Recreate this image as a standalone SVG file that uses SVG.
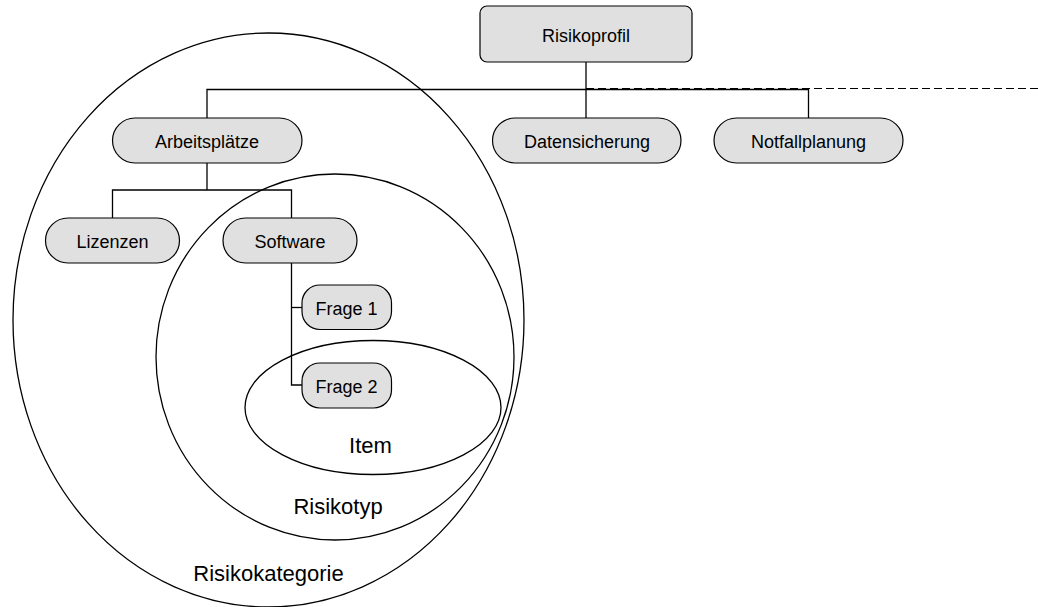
<svg xmlns="http://www.w3.org/2000/svg" width="1038" height="607" viewBox="0 0 1038 607">
  <style>
    .bg { fill: #ffffff; }
    .region { fill: none; stroke: #000000; stroke-width: 1.3; }
    .node { fill: #e0e0e0; stroke: #000000; stroke-width: 1.2; }
    .conn { fill: none; stroke: #000000; stroke-width: 1.3; }
    .dash { fill: none; stroke: #000000; stroke-width: 1.2; stroke-dasharray: 8 4; }
    .lbl { font-family: "Liberation Sans", Arial, sans-serif; font-size: 18px; fill: #000000; text-anchor: middle; }
    .rlbl { font-family: "Liberation Sans", Arial, sans-serif; font-size: 22px; fill: #000000; text-anchor: middle; }
  </style>
  <rect class="bg" x="0" y="0" width="1038" height="607"/>

  <g id="regions">
    <g id="risikokategorie">
      <ellipse class="region" cx="268.5" cy="320" rx="255.5" ry="287"/>
      <text class="rlbl" x="268.5" y="580.5">Risikokategorie</text>
    </g>
    <g id="risikotyp">
      <ellipse class="region" cx="335" cy="357" rx="179" ry="183"/>
      <text class="rlbl" x="338" y="514">Risikotyp</text>
    </g>
    <g id="item">
      <ellipse class="region" cx="373" cy="407.5" rx="128" ry="67"/>
      <text class="rlbl" x="370.5" y="453">Item</text>
    </g>
  </g>

  <g id="connectors">
    <line class="conn" x1="586" y1="62" x2="586" y2="89.5"/>
    <polyline class="conn" points="207,118 207,89.5 808.5,89.5 808.5,118"/>
    <line class="conn" x1="586" y1="89.5" x2="586" y2="118"/>
    <line class="dash" x1="586" y1="88.5" x2="1038" y2="88.5"/>
    <line class="conn" x1="207" y1="163" x2="207" y2="190"/>
    <polyline class="conn" points="112.5,218 112.5,190 291.5,190 291.5,218"/>
    <polyline class="conn" points="291.5,263 291.5,385 302,385"/>
    <line class="conn" x1="291.5" y1="307.5" x2="302" y2="307.5"/>
  </g>

  <g id="risikoprofil">
    <rect class="node" x="480" y="6" width="212" height="56" rx="7"/>
    <text class="lbl" x="586" y="41.5">Risikoprofil</text>
  </g>
  <g id="arbeitsplaetze">
    <rect class="node" x="112.5" y="118" width="189.5" height="45" rx="22.5"/>
    <text class="lbl" x="207" y="148">Arbeitsplätze</text>
  </g>
  <g id="datensicherung">
    <rect class="node" x="492.5" y="118" width="188.5" height="45" rx="22.5"/>
    <text class="lbl" x="587" y="148">Datensicherung</text>
  </g>
  <g id="notfallplanung">
    <rect class="node" x="714" y="118" width="189" height="45" rx="22.5"/>
    <text class="lbl" x="808.5" y="148">Notfallplanung</text>
  </g>
  <g id="lizenzen">
    <rect class="node" x="45.5" y="218" width="134" height="45" rx="22.5"/>
    <text class="lbl" x="112.5" y="248">Lizenzen</text>
  </g>
  <g id="software">
    <rect class="node" x="223" y="218" width="134" height="45" rx="22.5"/>
    <text class="lbl" x="290" y="248">Software</text>
  </g>
  <g id="frage1">
    <rect class="node" x="302" y="285" width="89.5" height="44.5" rx="18"/>
    <text class="lbl" x="346.5" y="314.5">Frage 1</text>
  </g>
  <g id="frage2">
    <rect class="node" x="302" y="363" width="89.5" height="45" rx="18"/>
    <text class="lbl" x="346.5" y="393">Frage 2</text>
  </g>
</svg>
